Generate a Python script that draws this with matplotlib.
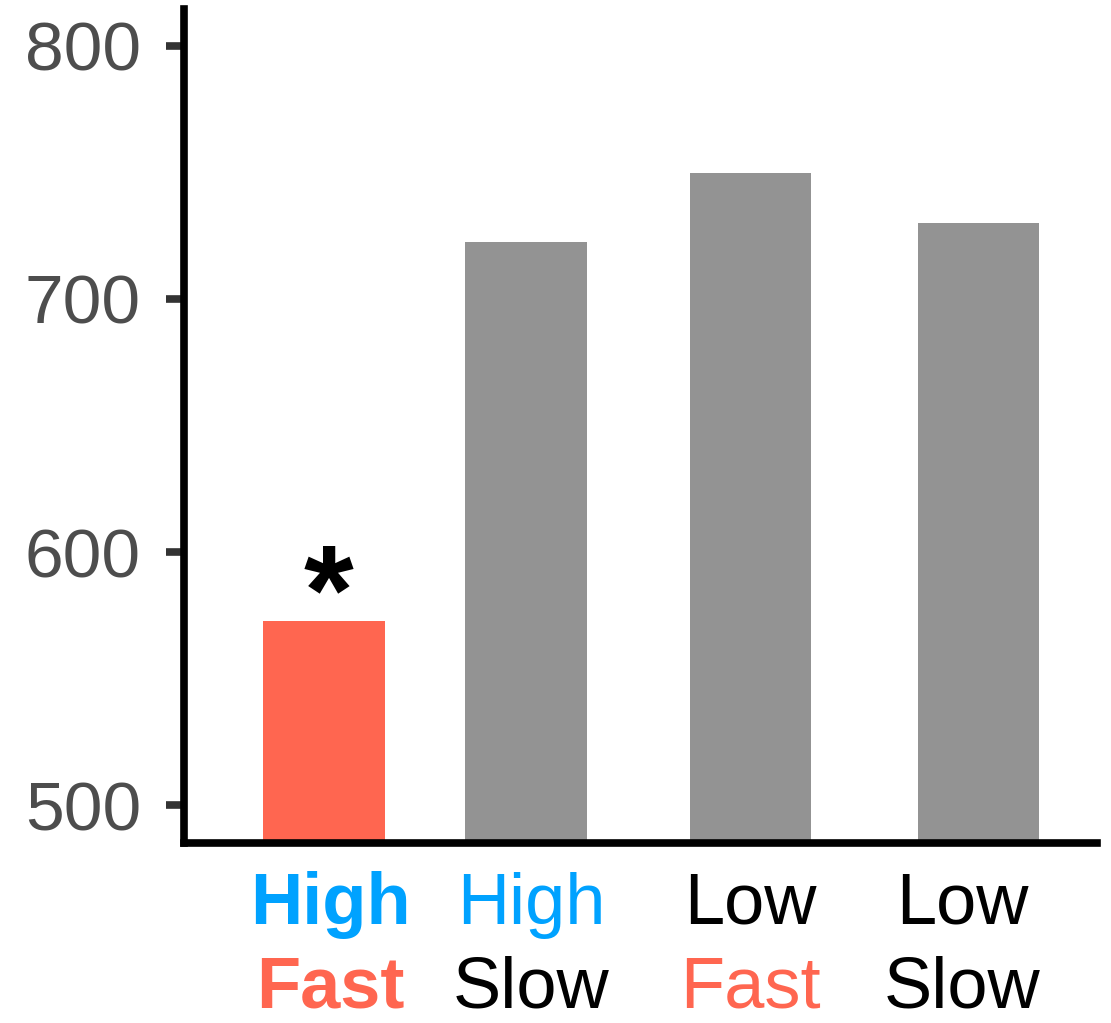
import matplotlib
matplotlib.use("Agg")
import matplotlib.pyplot as plt
from matplotlib.transforms import blended_transform_factory

# data
categories_top = ["High", "High", "Low", "Low"]
categories_bottom = ["Fast", "Slow", "Fast", "Slow"]
values = [572.7, 722.5, 749.8, 730.0]
positions = [1.0, 2.0, 3.11, 4.24]
label_offsets = [0.03, 0.025, 0.0, -0.08]
yticks = [500, 600, 700, 800]

BLUE = "#00A2FF"
RED = "#FF6650"
GRAY = "#939393"
top_colors = [BLUE, BLUE, "black", "black"]
top_weights = ["bold", "normal", "normal", "normal"]
bottom_colors = [RED, "black", RED, "black"]
bottom_weights = ["bold", "normal", "normal", "normal"]
bar_colors = [RED, GRAY, GRAY, GRAY]

plt.rcParams["font.family"] = ["Liberation Sans", "DejaVu Sans"]

fig = plt.figure(figsize=(11.11, 10.23), dpi=100)
ax = fig.add_axes([184 / 1111, (1023 - 843) / 1023, (1097 - 184) / 1111, (843 - 9) / 1023])

ax.bar(positions, values, width=0.6, color=bar_colors, bottom=0, zorder=2)
ax.set_ylim(485.0, 814.6)
ax.set_xlim(0.307, 4.827)

for s in ["top", "right"]:
    ax.spines[s].set_visible(False)
for s in ["left", "bottom"]:
    ax.spines[s].set_linewidth(5.5)
    ax.spines[s].set_color("black")

ax.set_yticks(yticks)
ax.set_yticklabels([str(t) for t in yticks])
ax.tick_params(axis="y", length=13, width=5.5, color="#333333", labelsize=50,
               labelcolor="#4D4D4D", pad=18)
ax.set_xticks([])

# significance marker
ax.annotate("*", xy=(positions[0], values[0]), xytext=(3, -28), textcoords="offset points",
            ha="center", va="bottom", fontsize=92, fontweight="bold", color="black")

tr = blended_transform_factory(ax.transData, fig.transFigure)
for i, x in enumerate(positions):
    xl = x + label_offsets[i]
    ax.text(xl, (1023 - 924) / 1023, categories_top[i], transform=tr, ha="center",
            va="baseline", fontsize=52, color=top_colors[i], fontweight=top_weights[i])
    ax.text(xl, (1023 - 1008) / 1023, categories_bottom[i], transform=tr, ha="center",
            va="baseline", fontsize=52, color=bottom_colors[i], fontweight=bottom_weights[i])

fig.savefig("out.png", dpi=100)
